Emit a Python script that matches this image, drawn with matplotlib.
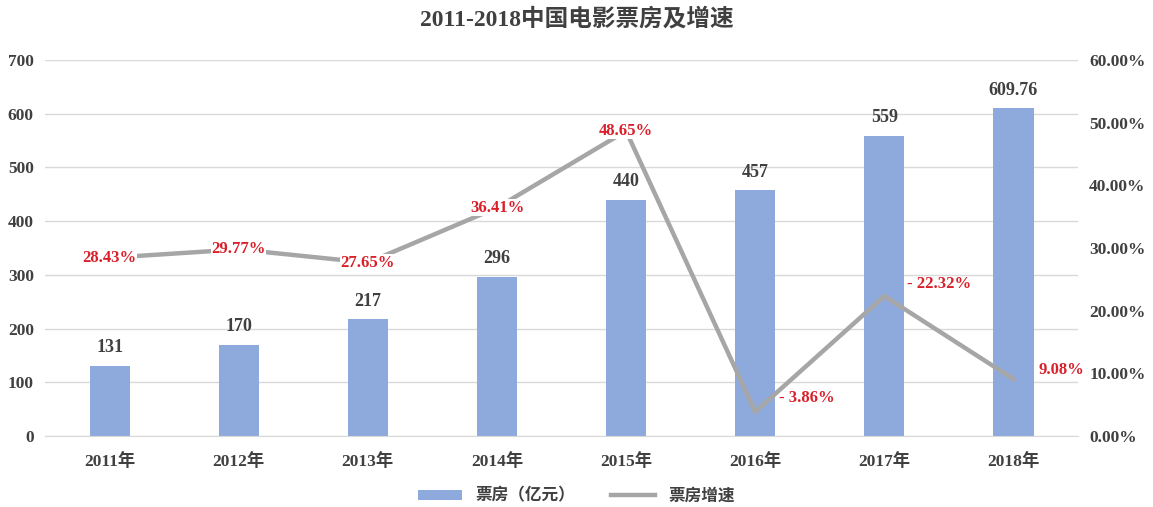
import matplotlib.pyplot as plt
import numpy as np

plt.rcParams['font.family'] = ['Liberation Serif', 'Noto Sans CJK SC']

years = ['2011年', '2012年', '2013年', '2014年', '2015年', '2016年', '2017年', '2018年']
box_office = [131, 170, 217, 296, 440, 457, 559, 609.76]
box_labels = ['131', '170', '217', '296', '440', '457', '559', '609.76']
growth = [28.43, 29.77, 27.65, 36.41, 48.65, 3.86, 22.32, 9.08]

bar_color = '#8EA9DB'
line_color = '#A6A6A6'
text_gray = '#404040'
red = '#D9202A'

fig = plt.figure(figsize=(11.53, 5.07), dpi=100)
ax = fig.add_axes([0.039, 0.140, 0.896, 0.742])
ax2 = ax.twinx()

x = np.arange(len(years))
ax.bar(x, box_office, width=0.31, color=bar_color, zorder=2, label='票房（亿元）')
ax2.plot(x, growth, color=line_color, lw=3.2, zorder=3, label='票房增速')

ax.set_xlim(-0.5, len(years) - 0.5)
ax.set_ylim(0, 700)
ax2.set_ylim(0, 60)
ax.set_yticks(range(0, 701, 100))
ax2.set_yticks(range(0, 61, 10))
ax2.set_yticklabels([f'{v:.2f}%' for v in range(0, 61, 10)])
ax.set_xticks(x)
ax.set_xticklabels(years)

ax.grid(axis='y', color='#D9D9D9', lw=1, zorder=0)
ax.set_axisbelow(True)
for a in (ax, ax2):
    for s in a.spines.values():
        s.set_visible(False)
    a.tick_params(length=0, labelsize=12.5, colors=text_gray)
    for lab in a.get_xticklabels() + a.get_yticklabels():
        lab.set_fontweight('bold')
ax.spines['bottom'].set_visible(True)
ax.spines['bottom'].set_color('#D9D9D9')
ax.tick_params(axis='x', pad=12)
ax.tick_params(axis='y', pad=8)
ax2.tick_params(axis='y', pad=8)

# bar value labels
for xi, v, s in zip(x, box_office, box_labels):
    ax.annotate(s, (xi, v), xytext=(0, 7), textcoords='offset points',
                ha='center', va='bottom', fontsize=13, fontweight='bold', color=text_gray)

# growth labels
offsets = {5: (17, 10, '- '), 6: (16, 9, '- '), 7: (18, 6.5, '')}
for i, g in enumerate(growth):
    if i < 5:
        ax2.text(x[i], g, f'{g:.2f}%', ha='center', va='center', fontsize=12,
                 fontweight='bold', color=red, zorder=4,
                 bbox=dict(fc='white', ec='none', pad=0.3))
    else:
        ox, oy, dash = offsets[i]
        ax2.annotate(f'{dash}{g:.2f}%', (x[i], g), xytext=(ox, oy), textcoords='offset points',
                     ha='left', va='center', fontsize=12, fontweight='bold', color=red, zorder=4)

fig.suptitle('2011-2018中国电影票房及增速', y=0.985, fontsize=17, fontweight='bold', color=text_gray)

h1, l1 = ax.get_legend_handles_labels()
h2, l2 = ax2.get_legend_handles_labels()
fig.legend(h1 + h2, l1 + l2, loc='lower center', bbox_to_anchor=(0.5, -0.025), ncol=2,
           frameon=False, handlelength=2.6, handleheight=0.6, columnspacing=2.2,
           labelcolor=text_gray, prop={'weight': 'bold', 'size': 12})

fig.savefig('out.png', dpi=100)
